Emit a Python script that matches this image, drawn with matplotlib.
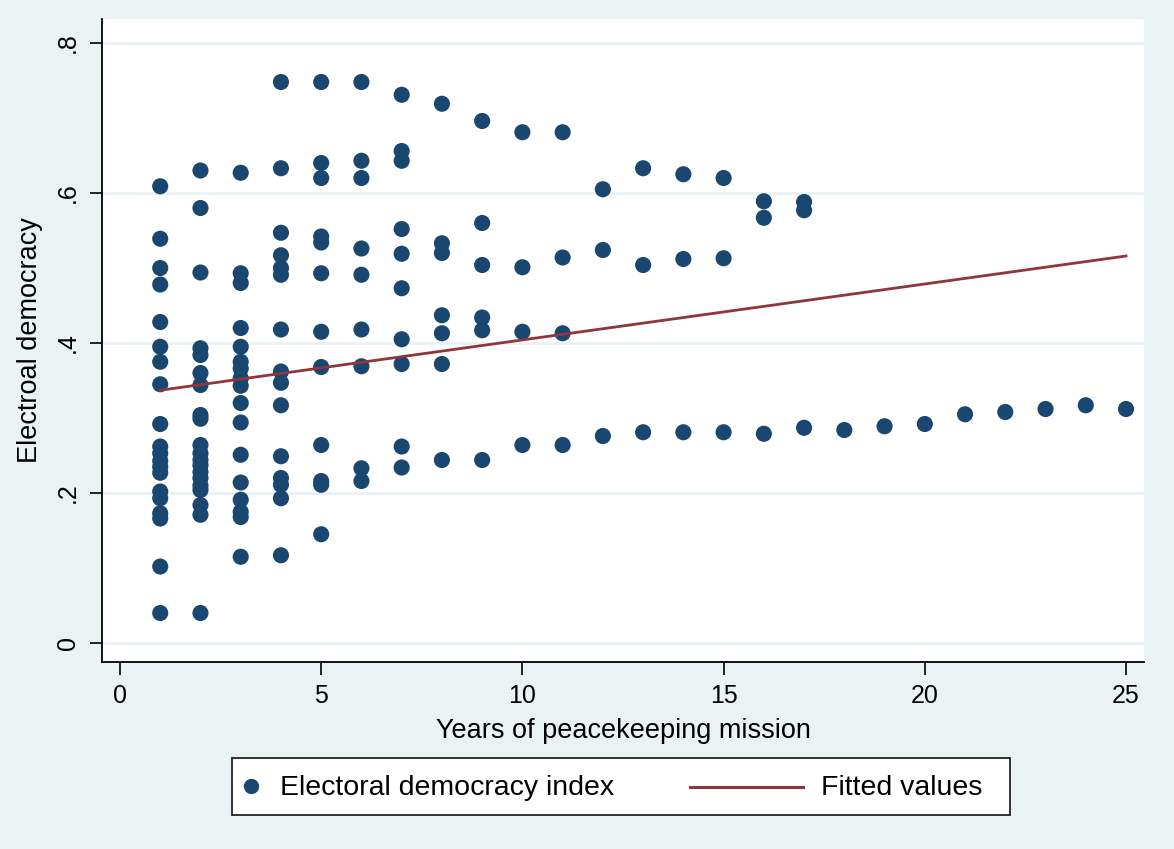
import matplotlib.pyplot as plt
from matplotlib.lines import Line2D
from matplotlib.patches import Rectangle

# ─────────────────────────────────────────────────────────────
# data (years of mission, electoral democracy)
# ─────────────────────────────────────────────────────────────
years_1_9 = [1] * 20 + [2] * 20 + [3] * 17 + [4] * 15 + [5] * 12 + [6] * 9 + [7] * 10 + [8] * 7 + [9] * 6
edi_1_9 = [
    # 1
    .609, .539, .500, .478, .428, .395, .375, .345, .292, .262,
    .253, .243, .235, .227, .202, .193, .173, .166, .102, .040,
    # 2
    .630, .580, .494, .393, .384, .360, .344, .304, .299, .264,
    .253, .244, .237, .228, .220, .210, .204, .184, .171, .040,
    # 3
    .627, .493, .480, .420, .395, .375, .366, .353, .343, .320,
    .294, .251, .214, .191, .175, .168, .115,
    # 4
    .748, .633, .547, .517, .500, .491, .418, .362, .347, .317,
    .249, .220, .211, .193, .117,
    # 5
    .748, .640, .620, .542, .534, .493, .415, .368, .264, .216, .211, .145,
    # 6
    .748, .643, .620, .526, .491, .418, .369, .233, .216,
    # 7
    .731, .656, .643, .552, .519, .473, .405, .372, .262, .234,
    # 8
    .719, .533, .520, .437, .413, .372, .244,
    # 9
    .696, .560, .504, .434, .417, .244,
]
years_10_25 = [10] * 4 + [11] * 4 + [12] * 3 + [13] * 3 + [14] * 3 + [15] * 3 + [16] * 3 + [17] * 3 + \
    [18, 19, 20, 21, 22, 23, 24, 25]
edi_10_25 = [
    .681, .501, .415, .264,
    .681, .514, .413, .264,
    .605, .524, .276,
    .633, .504, .281,
    .625, .512, .281,
    .620, .513, .281,
    .589, .567, .279,
    .588, .577, .287,
    .284, .289, .292, .305, .308, .312, .317, .312,
]

years = years_1_9 + years_10_25
edi = edi_1_9 + edi_10_25

# fitted line ends
fit_x = [1, 25]
fit_y = [0.337, 0.516]

xticks = [0, 5, 10, 15, 20, 25]
yticks = [0, .2, .4, .6, .8]
ytick_labels = ["0", ".2", ".4", ".6", ".8"]
legend_labels = ["Electoral democracy index", "Fitted values"]

NAVY = "#1A476F"
MAROON = "#90353B"
BG = "#EAF2F3"

plt.rcParams['font.family'] = ['Liberation Sans', 'DejaVu Sans']

fig = plt.figure(figsize=(11.74, 8.49), dpi=100, facecolor=BG)
ax = fig.add_axes([102 / 1174, 187 / 849, 1042 / 1174, 643 / 849])
ax.set_facecolor("white")

for y in yticks:
    ax.axhline(y, color=BG, lw=2, zorder=0)

ax.scatter(years, edi, s=135, color=NAVY, edgecolors="none", zorder=2)
ax.plot(fit_x, fit_y, color=MAROON, lw=2, zorder=3)

ax.set_xlim(-0.447, 25.447)
ax.set_ylim(-0.0253, 0.832)
ax.set_xticks(xticks)
ax.set_yticks(yticks)
ax.set_yticklabels(ytick_labels, rotation=90, va="center")
ax.tick_params(axis="both", direction="out", length=9, width=1.2, labelsize=18, colors="black", pad=7)

for side in ["top", "right"]:
    ax.spines[side].set_visible(False)
for side in ["left", "bottom"]:
    ax.spines[side].set_linewidth(1.3)

ax.set_xlabel("Years of peacekeeping mission", fontsize=19.5, labelpad=7)
ax.set_ylabel("Electroal democracy", fontsize=19.5, labelpad=9)

# legend box drawn in pixel coords on an overlay (marker and line keys
# have different widths in the original, so a stock legend won't fit)
lg = fig.add_axes([0, 0, 1, 1], facecolor="none")
lg.set_xlim(0, 1174)
lg.set_ylim(849, 0)
lg.axis("off")
lg.add_patch(Rectangle((232, 758), 778, 57, facecolor="white", edgecolor="#222222", lw=1.3))
lg.add_line(Line2D([251], [786], marker="o", ls="none", color=NAVY, markersize=10))
lg.text(280, 788, legend_labels[0], fontsize=20.5, va="center", ha="left")
lg.add_line(Line2D([690, 803], [787, 787], color=MAROON, lw=2.2))
lg.text(821, 788, legend_labels[1], fontsize=20.5, va="center", ha="left")

fig.savefig("out.png", dpi=100, facecolor=BG)
